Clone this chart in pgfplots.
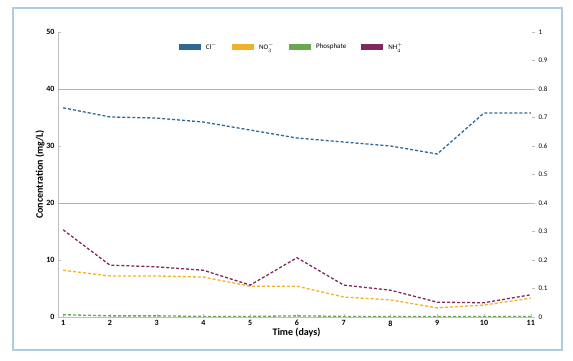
\documentclass[border=0pt]{standalone}
\usepackage{pgfplots}
\pgfplotsset{compat=1.18}
\usepackage{fontspec}
\setmainfont{Carlito}
\definecolor{cblue}{RGB}{46,105,150}
\definecolor{corange}{RGB}{240,178,40}
\definecolor{cgreen}{RGB}{106,168,79}
\definecolor{cpurple}{RGB}{128,40,96}
\definecolor{cframe}{RGB}{170,205,225}
\begin{document}
\begin{tikzpicture}[x=1pt,y=1pt]
\path (-58,-44) rectangle (515,317);
\draw[cframe, line width=1.2pt] (-45,-33) rectangle (504,309);
\begin{axis}[
  at={(0,0)}, anchor=south west,
  scale only axis, width=477pt, height=285pt,
  xmin=0.89, xmax=11.09, ymin=0, ymax=50,
  xtick={1,...,11},
  ytick={0,10,...,50},
  extra y ticks={20,40},
  extra y tick labels={},
  extra y tick style={grid=major, major grid style={gray!60, line width=0.8pt}, major tick length=0pt},
  axis x line*=bottom, axis y line*=left,
  axis line style={gray!50},
  tick style={gray!50},
  major tick length=3pt,
  tick label style={font=\footnotesize\bfseries},
  /pgf/number format/assume math mode=true,
  xlabel={Time (days)}, ylabel={Concentration (mg/L)},
  label style={font=\normalsize\bfseries},
  xlabel style={yshift=5pt},
  ylabel style={yshift=-5pt},
  legend style={draw=none, fill=none, font=\scriptsize, at={(0.487,0.947)}, anchor=center, legend columns=4, /tikz/every even column/.append style={column sep=10pt}},
  legend image code/.code={\draw[#1, solid, line width=6pt] (0pt,0pt) -- (22pt,0pt);},
  every axis plot/.append style={line width=1.3pt, densely dashed},
]
\addplot[cblue] coordinates {(1,36.7) (2,35.1) (3,34.9) (4,34.2) (5,32.8) (6,31.4) (7,30.7) (8,30.0) (9,28.6) (10,35.8) (11,35.8)};
\addlegendentry{Cl$^{-}$}
\addplot[corange] coordinates {(1,8.2) (2,7.2) (3,7.2) (4,7.0) (5,5.4) (6,5.4) (7,3.5) (8,3.0) (9,1.6) (10,2.1) (11,3.3)};
\addlegendentry{NO$_3^{-}$}
\addplot[cgreen] coordinates {(1,0.4) (2,0.2) (3,0.2) (4,0.1) (5,0.1) (6,0.2) (7,0.1) (8,0.1) (9,0.1) (10,0.1) (11,0.1)};
\addlegendentry{Phosphate}
\addplot[cpurple] coordinates {(1,15.3) (2,9.1) (3,8.8) (4,8.2) (5,5.6) (6,10.4) (7,5.6) (8,4.7) (9,2.6) (10,2.5) (11,3.9)};
\addlegendentry{NH$_4^{+}$}
\end{axis}
\begin{axis}[
  at={(0,0)}, anchor=south west,
  scale only axis, width=477pt, height=285pt,
  xmin=0.89, xmax=11.09, ymin=0, ymax=1,
  axis x line=none, axis y line*=right,
  ytick={0,0.1,...,1},
  axis line style={draw=none},
  tick style={gray!50},
  major tick length=3pt,
  tick label style={font=\scriptsize},
  yticklabel style={/pgf/number format/fixed, /pgf/number format/precision=1},
  /pgf/number format/assume math mode=true,
]
\addplot[draw=none] coordinates {(1,0)};
\end{axis}
\end{tikzpicture}
\end{document}
